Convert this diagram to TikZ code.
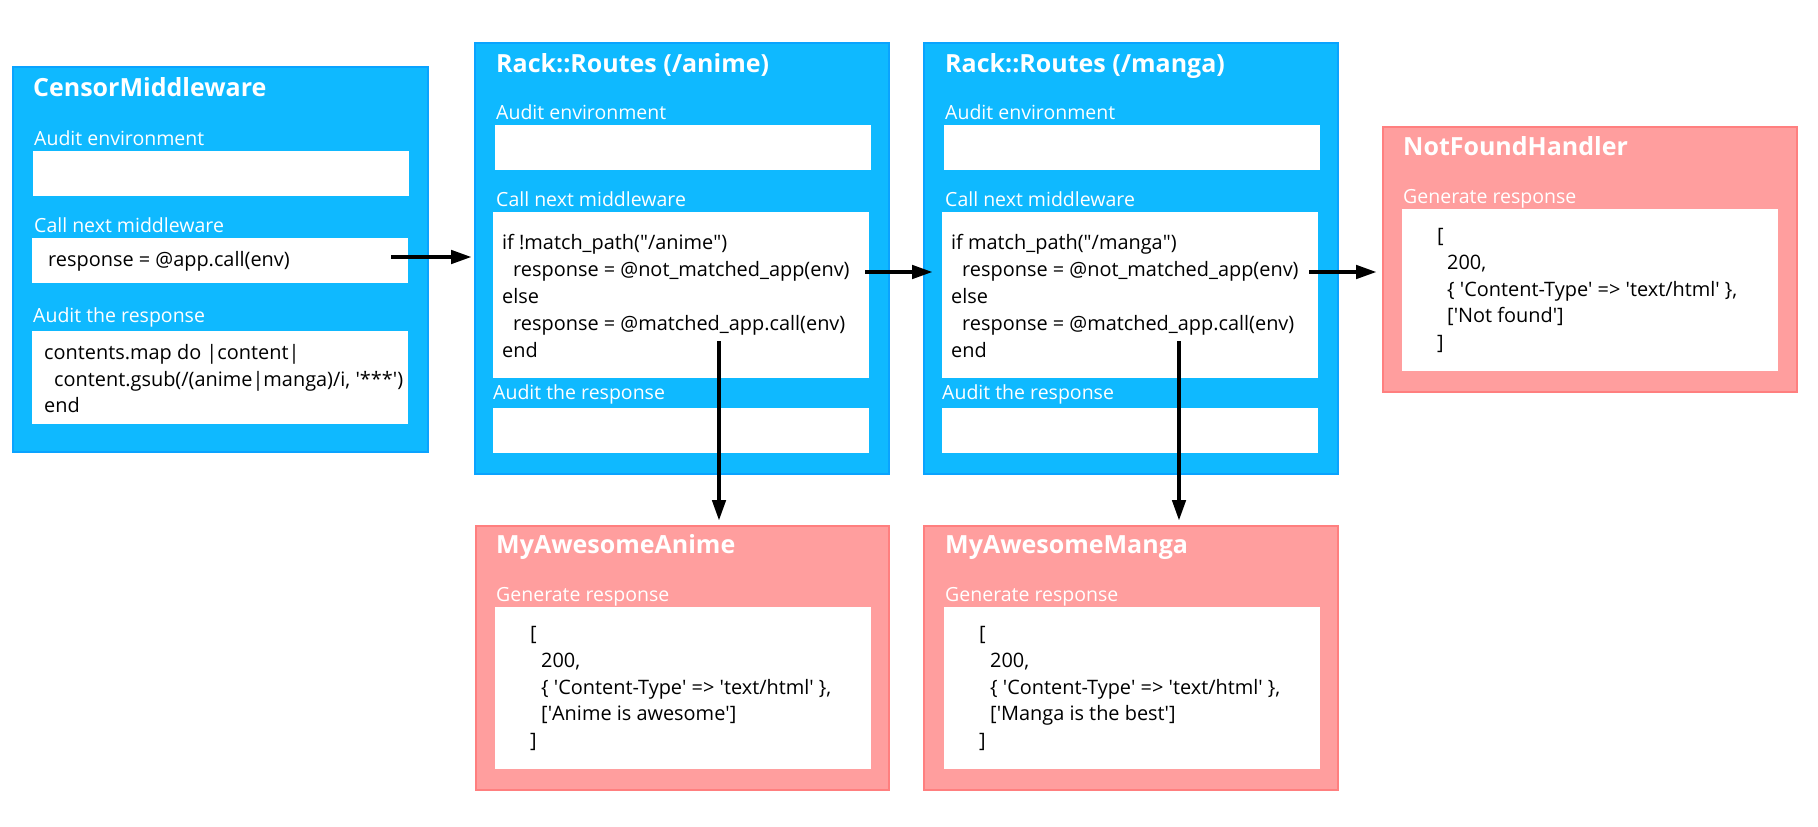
\documentclass[tikz,border=0pt]{standalone}
\usepackage{fontspec}
\setmainfont{Open Sans}
\usetikzlibrary{arrows.meta}
\definecolor{bordblue}{HTML}{0AA3FF}
\definecolor{fillblue}{HTML}{0FB9FF}
\definecolor{bordpink}{HTML}{FF7F7F}
\definecolor{fillpink}{HTML}{FF9E9E}
\newcommand{\sq}{\textquotesingle}
\newcommand{\dq}{\textquotedbl}
\tikzset{
  bluebox/.style={draw=bordblue, fill=fillblue, line width=2.5pt, anchor=north west, inner sep=0pt, outer sep=0pt},
  pinkbox/.style={draw=bordpink, fill=fillpink, line width=2.5pt, anchor=north west, inner sep=0pt, outer sep=0pt},
  wbox/.style={fill=white, anchor=north west, inner sep=0pt, outer sep=0pt},
  ttl/.style={anchor=base west, text=white, inner sep=0pt, font=\bfseries\fontsize{25}{29}\selectfont},
  lbl/.style={anchor=base west, text=white, inner sep=0pt, font=\fontsize{19.5}{24}\selectfont},
  cde/.style={anchor=base west, text=black, inner sep=0pt, font=\fontsize{19.9}{24}\selectfont},
  arr/.style={-{Triangle[length=21pt,width=13pt]}, line width=4.5pt, black}
}
\begin{document}
\begin{tikzpicture}[x=1pt,y=-1pt]
\useasboundingbox (0,0) rectangle (1818,827);
% ---------- CensorMiddleware
\node[bluebox, minimum width=415pt, minimum height=385pt] (cm) at (13,67) {};
\node[ttl] (cmt) at (33,96) {CensorMiddleware};
\node[lbl] (cml1) at (34,145.7) {Audit environment};
\node[wbox, minimum width=376pt, minimum height=45pt] (cmw1) at (33,151) {};
\node[lbl] (cml2) at (34,232.7) {Call next middleware};
\node[wbox, minimum width=376pt, minimum height=45pt] (cmw2) at (32,238) {};
\node[cde] (cmc1) at (48,266.7) {response = @app.call(env)};
\node[lbl] (cml3) at (33,322.7) {Audit the response};
\node[wbox, minimum width=376pt, minimum height=93pt] (cmw3) at (32,331) {};
\node[cde] (cmc2) at (44,359.3) {contents.map do |content|};
\node[cde] (cmc3) at (54,386) {content.gsub(/(anime|manga)/i, \sq***\sq)};
\node[cde] (cmc4) at (44,412.7) {end};
% ---------- Rack::Routes (/anime)
\node[bluebox, minimum width=414pt, minimum height=431pt] (ra) at (475,43) {};
\node[ttl] (rat) at (496,72.3) {Rack::Routes (/anime)};
\node[lbl] (ral1) at (496,119.3) {Audit environment};
\node[wbox, minimum width=376pt, minimum height=45pt] (raw1) at (495,125) {};
\node[lbl] (ral2) at (496,206) {Call next middleware};
\node[wbox, minimum width=376pt, minimum height=166pt] (raw2) at (493,212) {};
\node[cde] (rac1) at (502,249) {if !match\_path(\dq/anime\dq)};
\node[cde] (rac2) at (513,276) {response = @not\_matched\_app(env)};
\node[cde] (rac3) at (502,303) {else};
\node[cde] (rac4) at (513,330) {response = @matched\_app.call(env)};
\node[cde] (rac5) at (502,357) {end};
\node[lbl] (ral3) at (493,399.3) {Audit the response};
\node[wbox, minimum width=376pt, minimum height=45pt] (raw3) at (493,408) {};
% ---------- Rack::Routes (/manga)
\node[bluebox, minimum width=414pt, minimum height=431pt] (rm) at (924,43) {};
\node[ttl] (rmt) at (945,72.3) {Rack::Routes (/manga)};
\node[lbl] (rml1) at (945,119.3) {Audit environment};
\node[wbox, minimum width=376pt, minimum height=45pt] (rmw1) at (944,125) {};
\node[lbl] (rml2) at (945,206) {Call next middleware};
\node[wbox, minimum width=376pt, minimum height=166pt] (rmw2) at (942,212) {};
\node[cde] (rmc1) at (951,249) {if match\_path(\dq/manga\dq)};
\node[cde] (rmc2) at (962,276) {response = @not\_matched\_app(env)};
\node[cde] (rmc3) at (951,303) {else};
\node[cde] (rmc4) at (962,330) {response = @matched\_app.call(env)};
\node[cde] (rmc5) at (951,357) {end};
\node[lbl] (rml3) at (942,399.3) {Audit the response};
\node[wbox, minimum width=376pt, minimum height=45pt] (rmw3) at (942,408) {};
% ---------- NotFoundHandler
\node[pinkbox, minimum width=414pt, minimum height=265pt] (nf) at (1383,127) {};
\node[ttl] (nft) at (1403,155) {NotFoundHandler};
\node[lbl] (nfl1) at (1403,203.3) {Generate response};
\node[wbox, minimum width=376pt, minimum height=162pt] (nfw1) at (1402,209) {};
\node[cde] (nfc1) at (1437,242.6) {[};
\node[cde] (nfc2) at (1447,269.3) {200,};
\node[cde] (nfc3) at (1447,296) {\{ \sq Content-Type\sq{} => \sq text/html\sq{} \},};
\node[cde] (nfc4) at (1447,322.7) {[\sq Not found\sq]};
\node[cde] (nfc5) at (1437,349.4) {]};
% ---------- MyAwesomeAnime
\node[pinkbox, minimum width=413pt, minimum height=264pt] (ba) at (476,526) {};
\node[ttl] (bat) at (496,553.3) {MyAwesomeAnime};
\node[lbl] (bal1) at (496,601) {Generate response};
\node[wbox, minimum width=376pt, minimum height=162pt] (baw1) at (495,607) {};
\node[cde] (bac1) at (530,640.8) {[};
\node[cde] (bac2) at (541,667.5) {200,};
\node[cde] (bac3) at (541,694.2) {\{ \sq Content-Type\sq{} => \sq text/html\sq{} \},};
\node[cde] (bac4) at (541,720.9) {[\sq Anime is awesome\sq]};
\node[cde] (bac5) at (530,747.6) {]};
% ---------- MyAwesomeManga
\node[pinkbox, minimum width=414pt, minimum height=264pt] (bm) at (924,526) {};
\node[ttl] (bmt) at (945,553.3) {MyAwesomeManga};
\node[lbl] (bml1) at (945,601) {Generate response};
\node[wbox, minimum width=376pt, minimum height=162pt] (bmw1) at (944,607) {};
\node[cde] (bmc1) at (979,640.8) {[};
\node[cde] (bmc2) at (990,667.5) {200,};
\node[cde] (bmc3) at (990,694.2) {\{ \sq Content-Type\sq{} => \sq text/html\sq{} \},};
\node[cde] (bmc4) at (990,720.9) {[\sq Manga is the best\sq]};
\node[cde] (bmc5) at (979,747.6) {]};
% ---------- connectors
\coordinate (s1) at (391,257);
\coordinate (s2) at (865,272);
\coordinate (s3) at (1309,272);
\coordinate (s4) at (719,341);
\coordinate (s5) at (1179,341);
\draw[arr, shorten >=3pt] (s1) -- (s1 -| ra.west);
\draw[arr, shorten >=-9pt] (s2) -- (s2 -| rm.west);
\draw[arr, shorten >=6pt] (s3) -- (s3 -| nf.west);
\draw[arr, shorten >=5pt] (s4) -- (s4 |- ba.north);
\draw[arr, shorten >=5pt] (s5) -- (s5 |- bm.north);
\end{tikzpicture}
\end{document}
